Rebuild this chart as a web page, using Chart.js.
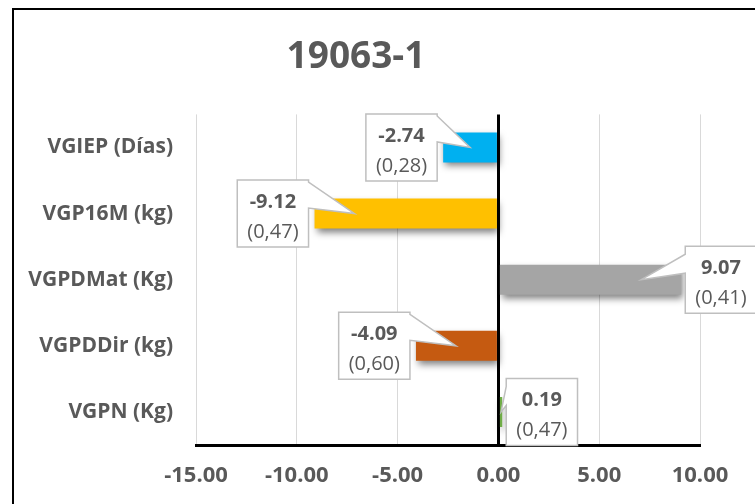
<!DOCTYPE html>
<html>
<head>
<meta charset="utf-8">
<title>19063-1</title>
<script src="https://cdn.jsdelivr.net/npm/chart.js@4/dist/chart.umd.min.js"></script>
<style>
  html, body { margin: 0; padding: 0; background: #ffffff; }
  #wrap { position: relative; width: 755px; height: 504px; overflow: hidden; }
</style>
</head>
<body>
<div id="wrap"><canvas id="chart" width="755" height="504"></canvas></div>
<script>
// Traits and their estimated genetic values
const categories = ['VGIEP (Días)', 'VGP16M (kg)', 'VGPDMat (Kg)', 'VGPDDir (kg)', 'VGPN (Kg)'];
const values = [-2.74, -9.12, 9.07, -4.09, 0.19];
// Accuracy of each estimate, shown in brackets under the value
const accuracies = [0.28, 0.47, 0.41, 0.60, 0.47];
const barColors = ['#00B0F0', '#FFC000', '#A5A5A5', '#C55A11', '#70AD47'];
// Value axis range and step
const axisMin = -15;
const axisMax = 10;
const axisStep = 5;

const FONT = '"Open Sans", "DejaVu Sans", sans-serif';
const TEXT = '#595959';

// Outer frame of the chart object
const framePlugin = {
  id: 'frame',
  afterDraw(chart) {
    const ctx = chart.ctx;
    ctx.save();
    ctx.strokeStyle = '#000000';
    ctx.lineWidth = 2;
    ctx.strokeRect(13, 9, 800, 600);
    ctx.restore();
  }
};

// Soft drop shadow under the bars
const barShadowPlugin = {
  id: 'barShadow',
  beforeDatasetsDraw(chart) {
    const ctx = chart.ctx;
    ctx.save();
    ctx.shadowColor = 'rgba(0,0,0,0.5)';
    ctx.shadowBlur = 7;
    ctx.shadowOffsetX = 2;
    ctx.shadowOffsetY = 4;
  },
  afterDatasetsDraw(chart) {
    chart.ctx.restore();
  }
};

// Callout boxes with the value and its accuracy, pointing into each bar
const calloutPlugin = {
  id: 'callouts',
  afterDraw(chart) {
    const ctx = chart.ctx;
    const meta = chart.getDatasetMeta(0);
    const ds = chart.data.datasets[0];
    const gap = 4, padX = 10, h = 67;
    ctx.save();
    meta.data.forEach((bar, i) => {
      const v = ds.data[i];
      const sign = v < 0 ? -1 : 1;
      const line1 = v.toFixed(2);
      const line2 = '(' + accuracies[i].toFixed(2).replace('.', ',') + ')';
      ctx.font = 'bold 20px ' + FONT;
      const w1 = ctx.measureText(line1).width;
      ctx.font = '20px ' + FONT;
      const w2 = ctx.measureText(line2).width;
      const w = Math.max(w1, w2) + padX * 2;
      const top = bar.y - h / 2;
      const bottom = top + h;
      let left, right;
      if (sign < 0) { right = bar.x - gap - 2; left = right - w; }
      else { left = bar.x + gap; right = left + w; }
      const len = Math.abs(bar.x - bar.base);
      const tipX = bar.x - sign * Math.min(40, len * 0.5);
      const tipY = bar.y;

      ctx.beginPath();
      if (sign < 0) {
        ctx.moveTo(left, top);
        ctx.lineTo(right, top);
        ctx.lineTo(right, top + 2);
        ctx.lineTo(tipX, tipY);
        ctx.lineTo(right, top + 28);
        ctx.lineTo(right, bottom);
        ctx.lineTo(left, bottom);
      } else {
        ctx.moveTo(left, top);
        ctx.lineTo(right, top);
        ctx.lineTo(right, bottom);
        ctx.lineTo(left, bottom);
        ctx.lineTo(left, top + 27);
        ctx.lineTo(tipX, tipY);
        ctx.lineTo(left, top + 8);
      }
      ctx.closePath();
      ctx.fillStyle = '#ffffff';
      ctx.fill();
      ctx.strokeStyle = '#BFBFBF';
      ctx.lineWidth = 1.5;
      ctx.stroke();

      const cx = (left + right) / 2;
      ctx.fillStyle = TEXT;
      ctx.textAlign = 'center';
      ctx.textBaseline = 'middle';
      ctx.font = 'bold 20px ' + FONT;
      ctx.fillText(line1, cx, top + 22);
      ctx.font = '20px ' + FONT;
      ctx.fillText(line2, cx, top + 52);
    });
    ctx.restore();
  }
};

new Chart(document.getElementById('chart'), {
  type: 'bar',
  data: {
    labels: categories,
    datasets: [{
      data: values,
      backgroundColor: barColors,
      borderWidth: 0,
      barPercentage: 1,
      categoryPercentage: 0.453
    }]
  },
  options: {
    indexAxis: 'y',
    responsive: false,
    animation: false,
    events: [],
    layout: { padding: { left: 12, top: 8, right: 55, bottom: 0 } },
    plugins: {
      legend: { display: false },
      tooltip: { enabled: false },
      title: {
        display: true,
        text: '19063-1',
        color: TEXT,
        font: { family: FONT, size: 37, weight: 'bold' },
        padding: { top: 27, bottom: 35 }
      }
    },
    scales: {
      x: {
        min: axisMin,
        max: axisMax,
        afterFit(scale) { scale.height = 59; },
        ticks: {
          stepSize: axisStep,
          color: TEXT,
          padding: 18,
          maxRotation: 0,
          font: { family: FONT, size: 22, weight: 'bold' },
          callback: (v) => Number(v).toFixed(2)
        },
        grid: {
          drawTicks: false,
          color: (c) => (c.tick && c.tick.value === 0 ? '#000000' : '#D9D9D9'),
          lineWidth: (c) => (c.tick && c.tick.value === 0 ? 3 : 1)
        },
        border: { display: true, color: '#000000', width: 3 }
      },
      y: {
        afterFit(scale) { scale.width = 184; },
        ticks: {
          color: TEXT,
          padding: 23,
          font: { family: FONT, size: 21, weight: 'bold' }
        },
        grid: { display: false, drawTicks: false },
        border: { display: false }
      }
    }
  },
  plugins: [barShadowPlugin, framePlugin, calloutPlugin]
});
</script>
</body>
</html>
